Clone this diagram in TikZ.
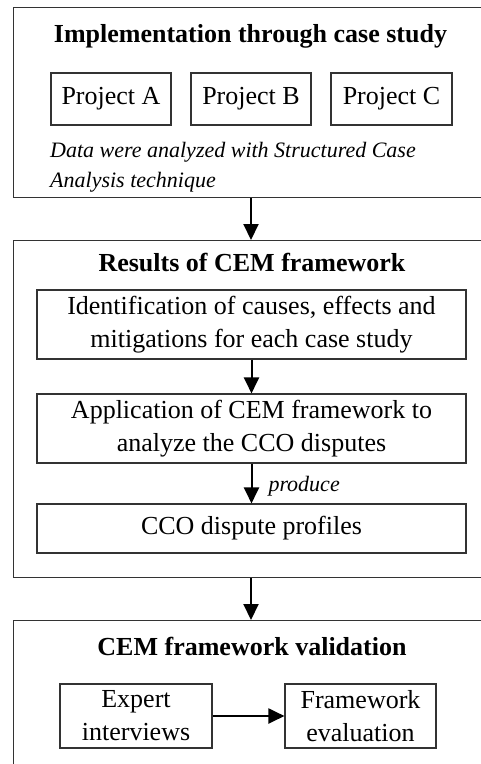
\documentclass[tikz,border=0pt]{standalone}
\usepackage{fontspec}
\setmainfont{Liberation Serif}
\usetikzlibrary{arrows.meta}
\begin{document}
\begin{tikzpicture}[x=1pt,y=-1pt,
  panel/.style={draw=black!80, line width=1.1pt, anchor=north west, inner sep=0pt},
  stage/.style={draw=black!80, line width=1.1pt, inner sep=0pt, align=center,
    font=\fontsize{26}{33}\selectfont},
  head/.style={font=\fontsize{26}{30}\selectfont\bfseries, inner sep=0pt, anchor=base},
  note/.style={font=\fontsize{22}{30}\selectfont\itshape, inner sep=0pt},
  arr/.style={line width=2pt, -{Triangle[length=16pt,width=15pt]}},
]
\useasboundingbox (0,0) rectangle (481,764);
\clip (0,0) rectangle (481,764);

% three stage panels, open towards the right edge
\node[panel, minimum width=520pt, minimum height=190pt] (impl) at (12.5,7) {};
\node[panel, minimum width=520pt, minimum height=337pt] (res) at (12.5,240) {};
\node[panel, minimum width=520pt, minimum height=200pt] (val) at (12.5,620) {};

% panel 1: case studies
\node[head] (t1) at (250.5,42) {Implementation through case study};
\node[stage, minimum width=120pt, minimum height=52pt] (pa) at (111,99) {Project A};
\node[stage, minimum width=120pt, minimum height=52pt] (pb) at (251,99) {Project B};
\node[stage, minimum width=121pt, minimum height=52pt] (pc) at (391.5,99) {Project C};
\node[note, anchor=north west, align=left] (n1) at (50,142)
  {Data were analyzed with Structured Case\\Analysis technique};

% panel 2: framework results
\node[head] (t2) at (252,271) {Results of CEM framework};
\node[stage, minimum width=429pt, minimum height=69pt] (id) at (251.5,324.5)
  {Identification of causes, effects and\\mitigations for each case study};
\node[stage, minimum width=429pt, minimum height=69pt] (app) at (251.5,428.5)
  {Application of CEM framework to\\analyze the CCO disputes};
\node[stage, minimum width=429pt, minimum height=49pt] (prof) at (251.5,528.5)
  {CCO dispute profiles};

% panel 3: validation
\node[head] (t3) at (252,655) {CEM framework validation};
\node[stage, minimum width=152pt, minimum height=64pt] (ex) at (136,716)
  {Expert\\interviews};
\node[stage, minimum width=151pt, minimum height=64pt] (fe) at (360.5,716)
  {Framework\\evaluation};

% connectors
\draw[arr] (impl.south -| pb) -- (res.north -| pb);
\draw[arr] (id) -- (app);
\draw[arr] (app) -- node[note, anchor=base west, xshift=16pt, yshift=-8pt] (lbl) {produce} (prof);
\draw[arr] (res.south -| pb) -- (val.north -| pb);
\draw[arr] (ex) -- (fe);
\end{tikzpicture}
\end{document}
